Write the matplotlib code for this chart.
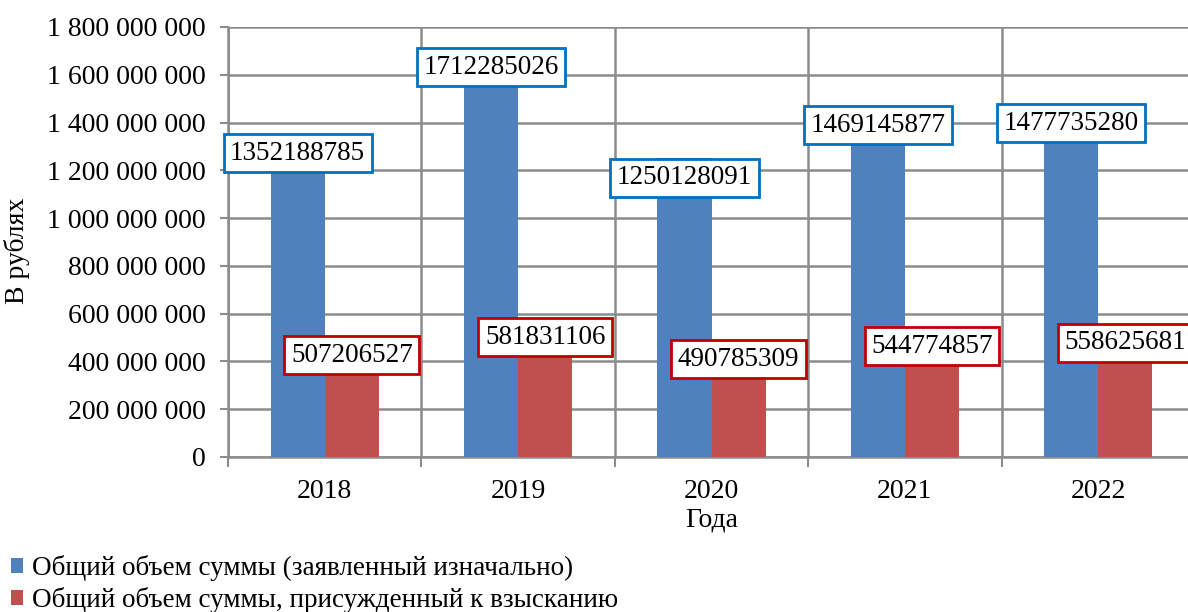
import numpy as np
import matplotlib
matplotlib.use('Agg')
import matplotlib.pyplot as plt
from matplotlib.ticker import FuncFormatter, FixedLocator

plt.rcParams['font.family'] = ['Liberation Serif', 'DejaVu Serif']
plt.rcParams['font.size'] = 20

years = ['2018', '2019', '2020', '2021', '2022']
declared = [1352188785, 1712285026, 1250128091, 1469145877, 1477735280]
awarded = [507206527, 581831106, 490785309, 544774857, 558625681]
series_names = ['Общий объем суммы (заявленный изначально)',
                'Общий объем суммы, присужденный к взысканию']

blue = '#4F81BD'
red = '#C0504D'
grid_c = '#8C8C8C'

fig = plt.figure(figsize=(11.88, 6.12), dpi=100)
ax = fig.add_axes([228/1188, 155/612, 967/1188, 430/612])

x = np.arange(len(years))
w = 0.28
b1 = ax.bar(x - w/2, declared, w, color=blue, zorder=3, label=series_names[0])
b2 = ax.bar(x + w/2, awarded, w, color=red, zorder=3, label=series_names[1])

for xi, v in zip(x, declared):
    ax.annotate(str(v), (xi - w/2, v), xytext=(0, -5), textcoords='offset points',
                ha='center', va='top', fontsize=19.5, zorder=5,
                bbox=dict(boxstyle='square,pad=0.24', fc='white', ec='#0070C0', lw=2))
for xi, v in zip(x, awarded):
    ax.annotate(str(v), (xi + w/2, v), xytext=(0, -5), textcoords='offset points',
                ha='center', va='top', fontsize=19.5, zorder=5,
                bbox=dict(boxstyle='square,pad=0.24', fc='white', ec='#C00000', lw=2))

ax.set_xlim(-0.5, len(years) - 0.5)
ax.set_ylim(0, 1.8e9)
ax.set_yticks(np.arange(0, 1.8e9 + 1, 2e8))
ax.yaxis.set_major_formatter(FuncFormatter(lambda v, p: f'{int(v):,}'.replace(',', ' ')))

ax.xaxis.set_major_locator(FixedLocator(np.arange(-0.5, len(years), 1)))
ax.xaxis.set_minor_locator(FixedLocator(x))
ax.set_xticklabels([], minor=False)
ax.set_xticklabels(years, minor=True)
ax.tick_params(axis='x', which='major', length=7, color=grid_c, width=1.5)
ax.tick_params(axis='x', which='minor', length=0, pad=16)
ax.tick_params(axis='y', length=6, color=grid_c, width=1.5, pad=10)

ax.grid(True, which='major', color=grid_c, lw=1.8, zorder=0)
ax.set_axisbelow(True)
for s in ['top', 'right']:
    ax.spines[s].set_visible(False)
for s in ['left', 'bottom']:
    ax.spines[s].set_color(grid_c)
    ax.spines[s].set_linewidth(1.8)

ax.set_xlabel('Года', labelpad=2)
ax.set_ylabel('В рублях')
ax.yaxis.set_label_coords(-198/967, 0.48)

fig.legend(handles=[b1, b2], loc='upper left', bbox_to_anchor=(0.009, 0.093),
           frameon=False, fontsize=19.5, handlelength=0.45, handleheight=0.45,
           handletextpad=0.35, labelspacing=0.22, borderaxespad=0, borderpad=0)

fig.savefig('out.png', dpi=100)
